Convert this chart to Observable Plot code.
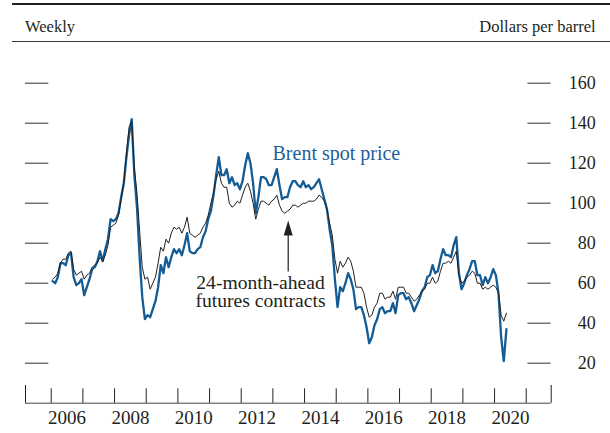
<!DOCTYPE html>
<html><head><meta charset="utf-8">
<script src="https://cdn.jsdelivr.net/npm/d3@7"></script>
<script src="https://cdn.jsdelivr.net/npm/@observablehq/plot@0.6"></script>
<style>
body{margin:0;background:#fff;font-family:"Liberation Serif",serif;}
#header{position:relative;margin:3px 0 0 12px;height:36px;border-top:2px solid #231f20;border-bottom:1px solid #3a3a3a;color:#231f20;font-size:16.5px;}
#header span{position:absolute;top:12.6px;line-height:17px;white-space:nowrap;}
#chart svg{display:block;}
</style></head><body>
<div id="header"><span style="left:13px">Weekly</span><span style="right:14.3px">Dollars per barrel</span></div>
<div id="chart"></div>
<script>
// Monthly readings, Jan 2006 .. May 2020 (dollars per barrel)
const startYear = 2006;
const brentSpot = [
  61, 60, 63, 70, 70, 69, 74, 75, 63, 59, 60, 62,
  54, 58, 62, 67, 68, 71, 76, 71, 77, 82, 92, 91,
  92, 95, 103, 110, 123, 134, 142, 114, 98, 73, 53, 42,
  44, 43, 47, 51, 58, 69, 65, 73, 68, 73, 77, 75,
  77, 74, 79, 85, 76, 75, 75, 77, 78, 83, 86, 92,
  96, 104, 114, 123, 114, 114, 117, 110, 113, 109, 110, 107,
  111, 119, 125, 120, 110, 95, 103, 113, 113, 112, 109, 109,
  113, 117, 109, 102, 103, 103, 108, 111, 111, 109, 108, 111,
  108, 109, 107, 108, 110, 112, 107, 102, 97, 87, 79, 62,
  48, 58, 56, 60, 65, 62, 57, 47, 48, 48, 44, 38,
  30, 33, 39, 42, 47, 48, 45, 46, 46, 50, 45, 54,
  55, 55, 52, 53, 50, 46, 49, 52, 56, 58, 63, 64,
  69, 65, 66, 72, 77, 74, 74, 73, 79, 83, 65, 57,
  60, 64, 67, 71, 71, 64, 64, 59, 63, 60, 63, 67,
  64, 55, 33, 21, 37
];
const futures24 = [
  62, 63, 65, 70, 72, 72, 75, 76, 67, 64, 65, 66,
  62, 64, 65, 68, 69, 70, 73, 71, 74, 79, 88, 89,
  90, 94, 102, 110, 125, 138, 141, 118, 105, 86, 68, 62,
  63, 57, 60, 63, 70, 78, 76, 82, 80, 85, 88, 87,
  88, 85, 88, 93, 85, 84, 83, 84, 85, 88, 90, 94,
  100, 105, 112, 116, 110, 108, 108, 100, 98, 99, 101, 100,
  104, 108, 110, 106, 100, 92, 97, 101, 101, 100, 99, 101,
  102, 104, 99, 96, 95, 96, 97, 99, 99, 98, 99, 100,
  100, 101, 101, 101, 102, 104, 103, 101, 97, 90, 84, 72,
  65, 71, 68, 70, 73, 71, 66, 58, 58, 58, 55, 48,
  43, 44, 48, 50, 55, 55, 52, 53, 53, 56, 52, 58,
  58, 58, 55, 55, 53, 51, 52, 54, 56, 57, 60, 60,
  63, 60, 61, 66, 70, 70, 71, 70, 73, 76, 64, 60,
  61, 63, 64, 66, 65, 60, 60, 57, 58, 57, 58, 59,
  58, 55, 44, 41, 45
];
const yTicks = [20, 40, 60, 80, 100, 120, 140, 160];
const yearBounds = [2006, 2007, 2008, 2009, 2010, 2011, 2012, 2013, 2014, 2015, 2016, 2017, 2018, 2019, 2020, 2021];
const yearLabels = [2006, 2008, 2010, 2012, 2014, 2016, 2018, 2020];

const toRows = arr => arr.map((v, i) => ({t: startYear + (i + 0.5) / 12, v}));
const brentRows = toRows(brentSpot);
const futRows = toRows(futures24);

const xMin = 2005.188, xMax = 2021.789;
const ink = "#231f20", blue = "#135c95";

const narrowTriangle = {
  draw(ctx, size) {
    const r = Math.sqrt(size / Math.PI);
    ctx.moveTo(0, -1.5 * r);
    ctx.lineTo(0.9 * r, 1.5 * r);
    ctx.lineTo(-0.9 * r, 1.5 * r);
    ctx.closePath();
  }
};

const arrowX = 2013.484;

const chart = Plot.plot({
  width: 610, height: 391,
  marginLeft: 25, marginRight: 59.3, marginTop: 40.7, marginBottom: 30.3,
  x: {domain: [xMin, xMax], axis: null},
  y: {domain: [0, 160], axis: null},
  style: {fontFamily: '"Liberation Serif", serif', background: "white", color: ink},
  marks: [
    Plot.ruleY([0], {stroke: "#444"}),
    Plot.ruleX(yearBounds, {x: d => d, y1: 0, y2: 0, insetTop: -14.4, stroke: ink}),
    Plot.ruleX([xMin, xMax], {x: d => d, y1: 0, y2: 0, insetTop: -17.7, stroke: ink}),
    Plot.ruleY(yTicks, {y: d => d, x1: xMin, x2: xMin, insetRight: -23.3, stroke: "#444", strokeWidth: 1.1}),
    Plot.ruleY(yTicks, {y: d => d, x1: xMax, x2: xMax, insetLeft: -23.3, stroke: "#444", strokeWidth: 1.1}),
    Plot.text(yTicks, {y: d => d, text: d => String(d), frameAnchor: "right", dx: 44.5, textAnchor: "end", fontSize: 18, fill: ink}),
    Plot.text(yearLabels, {x: d => d + 0.5, text: d => String(d), frameAnchor: "bottom", dy: 14.3, lineAnchor: "middle", fontSize: 19, fill: ink}),
    Plot.line(brentRows, {x: "t", y: "v", stroke: blue, strokeWidth: 2.3, strokeLinejoin: "round"}),
    Plot.line(futRows, {x: "t", y: "v", stroke: ink, strokeWidth: 1}),
    Plot.text(["Brent spot price"], {x: () => 2012.988, y: () => 121.85, text: d => d, textAnchor: "start", lineAnchor: "bottom", fontSize: 20, fill: "#1f5f96"}),
    Plot.text(["24-month-ahead\nfutures contracts"], {x: () => 2012.609, y: () => 48.3, text: d => d, textAnchor: "middle", lineAnchor: "bottom", lineHeight: 0.9, fontSize: 19.6, fill: ink}),
    Plot.ruleX([arrowX], {x: d => d, y1: 65.6, y2: 86, stroke: ink, strokeWidth: 1.2}),
    Plot.dot([arrowX], {x: d => d, y: () => 87.6, r: 5, symbol: narrowTriangle, fill: ink, stroke: "none"})
  ]
});
document.getElementById("chart").appendChild(chart);
</script>
</body></html>
